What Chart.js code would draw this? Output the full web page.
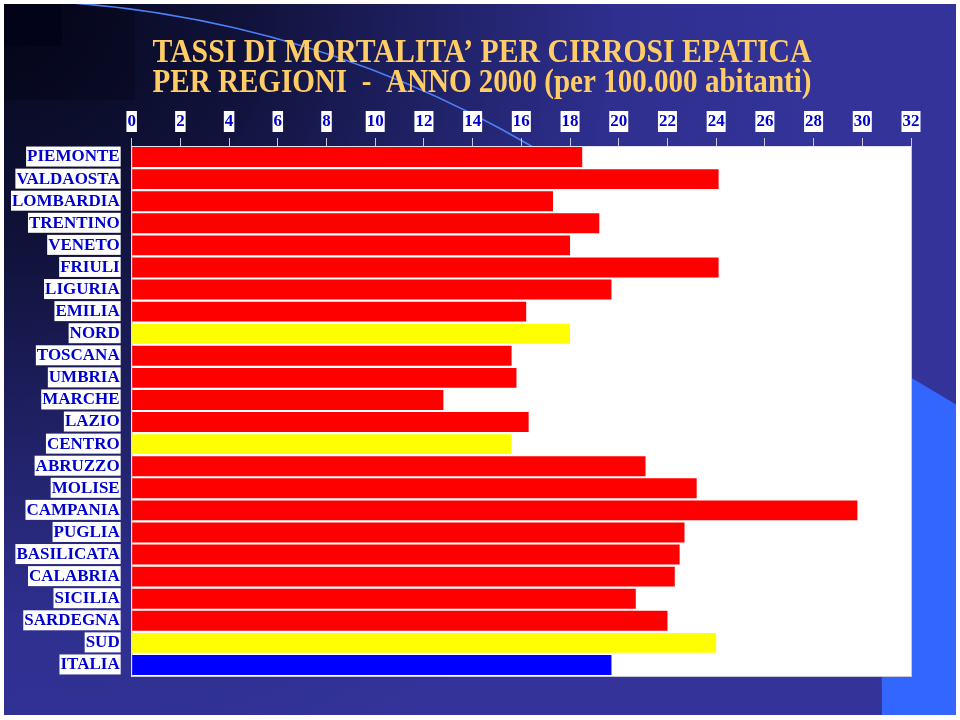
<!DOCTYPE html>
<html>
<head>
<meta charset="utf-8">
<script src="https://cdn.jsdelivr.net/npm/chart.js@4.4.1/dist/chart.umd.min.js"></script>
<style>
  html, body { margin: 0; padding: 0; background: #fff; }
  canvas { display: block; }
</style>
</head>
<body>
<canvas id="cirrosiChart" width="960" height="720"></canvas>
<script>
const titleLines = [
  'TASSI DI MORTALITA\u2019 PER CIRROSI EPATICA',
  'PER REGIONI  -  ANNO 2000 (per 100.000 abitanti)',
];

const regions = [
  'PIEMONTE', 'VALDAOSTA', 'LOMBARDIA', 'TRENTINO', 'VENETO', 'FRIULI',
  'LIGURIA', 'EMILIA', 'NORD', 'TOSCANA', 'UMBRIA', 'MARCHE', 'LAZIO',
  'CENTRO', 'ABRUZZO', 'MOLISE', 'CAMPANIA', 'PUGLIA', 'BASILICATA',
  'CALABRIA', 'SICILIA', 'SARDEGNA', 'SUD', 'ITALIA',
];

const rates = [
  18.5, 24.1, 17.3, 19.2, 18.0, 24.1,
  19.7, 16.2, 18.0, 15.6, 15.8, 12.8, 16.3,
  15.6, 21.1, 23.2, 29.8, 22.7, 22.5,
  22.3, 20.7, 22.0, 24.0, 19.7,
];

const areaTotals = ['NORD', 'CENTRO', 'SUD'];
const nationalTotal = 'ITALIA';

const tickValues = [0, 2, 4, 6, 8, 10, 12, 14, 16, 18, 20, 22, 24, 26, 28, 30, 32];

const barColor = (name) => {
  if (name === nationalTotal) return '#0000ff';
  if (areaTotals.includes(name)) return '#ffff00';
  return '#ff0000';
};

// slide background, decorations, white plot area and the title
const slideBackground = {
  id: 'slideBackground',
  beforeDraw(chart) {
    const { ctx, width, height, chartArea: a } = chart;
    ctx.save();
    ctx.fillStyle = '#ffffff';
    ctx.fillRect(0, 0, width, height);

    ctx.beginPath();
    ctx.rect(4, 4, width - 8, height - 9);
    ctx.clip();

    const g = ctx.createRadialGradient(0, 0, 0, 0, 0, 820);
    g.addColorStop(0, '#06071a');
    g.addColorStop(0.3, '#10123a');
    g.addColorStop(0.75, '#2e2f8e');
    g.addColorStop(1, '#333399');
    ctx.fillStyle = g;
    ctx.fillRect(0, 0, width, height);

    ctx.fillStyle = 'rgba(0, 0, 12, 0.25)';
    ctx.fillRect(0, 0, 135, 100);
    ctx.fillStyle = '#020318';
    ctx.fillRect(4, 4, 58, 42);

    ctx.fillStyle = '#3366ff';
    ctx.beginPath();
    ctx.moveTo(880, 359);
    ctx.lineTo(960, 407);
    ctx.lineTo(960, 720);
    ctx.lineTo(882, 720);
    ctx.closePath();
    ctx.fill();

    ctx.strokeStyle = '#4d7ff5';
    ctx.lineWidth = 1.6;
    ctx.beginPath();
    ctx.arc(-8, 1069, 1069, -1.6, -0.55);
    ctx.stroke();

    ctx.fillStyle = '#ffffff';
    ctx.fillRect(a.left, a.top, a.right - a.left, a.bottom - a.top);
    ctx.strokeStyle = '#c8c8d8';
    ctx.lineWidth = 1;
    ctx.strokeRect(a.left + 0.5, a.top + 0.5, a.right - a.left, a.bottom - a.top);

    ctx.fillStyle = '#ffcc66';
    ctx.font = 'bold 34px "Liberation Serif"';
    ctx.textAlign = 'center';
    ctx.textBaseline = 'alphabetic';
    const cx = 482;
    const baselines = [62, 92];
    titleLines.forEach((line, i) => {
      const w = ctx.measureText(line).width;
      const sx = 659 / w;
      ctx.save();
      ctx.translate(cx, baselines[i]);
      ctx.scale(sx, 1);
      ctx.fillText(line, 0, 0);
      ctx.restore();
    });
    ctx.restore();
  },
};

const ctx = document.getElementById('cirrosiChart');

const cirrosiChart = new Chart(ctx, {
  type: 'bar',
  data: {
    labels: regions,
    datasets: [
      {
        label: 'Tassi di mortalità',
        data: rates,
        backgroundColor: regions.map(barColor),
        borderWidth: 0,
        barPercentage: 0.9,
        categoryPercentage: 1.0,
      },
    ],
  },
  options: {
    indexAxis: 'y',
    responsive: false,
    animation: false,
    layout: {
      padding: { top: 105, left: 0, right: 49, bottom: 44 },
    },
    plugins: {
      legend: { display: false },
      title: { display: false },
      tooltip: { enabled: false },
    },
    scales: {
      x: {
        position: 'top',
        min: 0,
        max: 32,
        afterBuildTicks: (axis) => {
          axis.ticks = tickValues.map((v) => ({ value: v }));
        },
        grid: {
          drawOnChartArea: false,
          drawTicks: true,
          tickLength: 8,
          color: '#c8c8dc',
          lineWidth: 1,
        },
        border: { display: true, color: '#e0e0f0' },
        ticks: {
          color: '#0000cc',
          font: { family: '"Liberation Serif"', size: 17, weight: 'bold', lineHeight: 1 },
          padding: 8,
          maxRotation: 0,
          autoSkip: false,
          showLabelBackdrop: true,
          backdropColor: '#ffffff',
          backdropPadding: { top: 2, bottom: 2, left: 1, right: 1 },
        },
      },
      y: {
        grid: { drawOnChartArea: false, drawTicks: false },
        border: { display: true, color: '#e0e0f0' },
        ticks: {
          color: '#0000cc',
          font: { family: '"Liberation Serif"', size: 17, weight: 'bold', lineHeight: 1 },
          padding: 12,
          autoSkip: false,
          showLabelBackdrop: true,
          backdropColor: '#ffffff',
          backdropPadding: { top: 2, bottom: 1, left: 1, right: 1 },
        },
      },
    },
  },
  plugins: [slideBackground],
});
</script>
</body>
</html>
